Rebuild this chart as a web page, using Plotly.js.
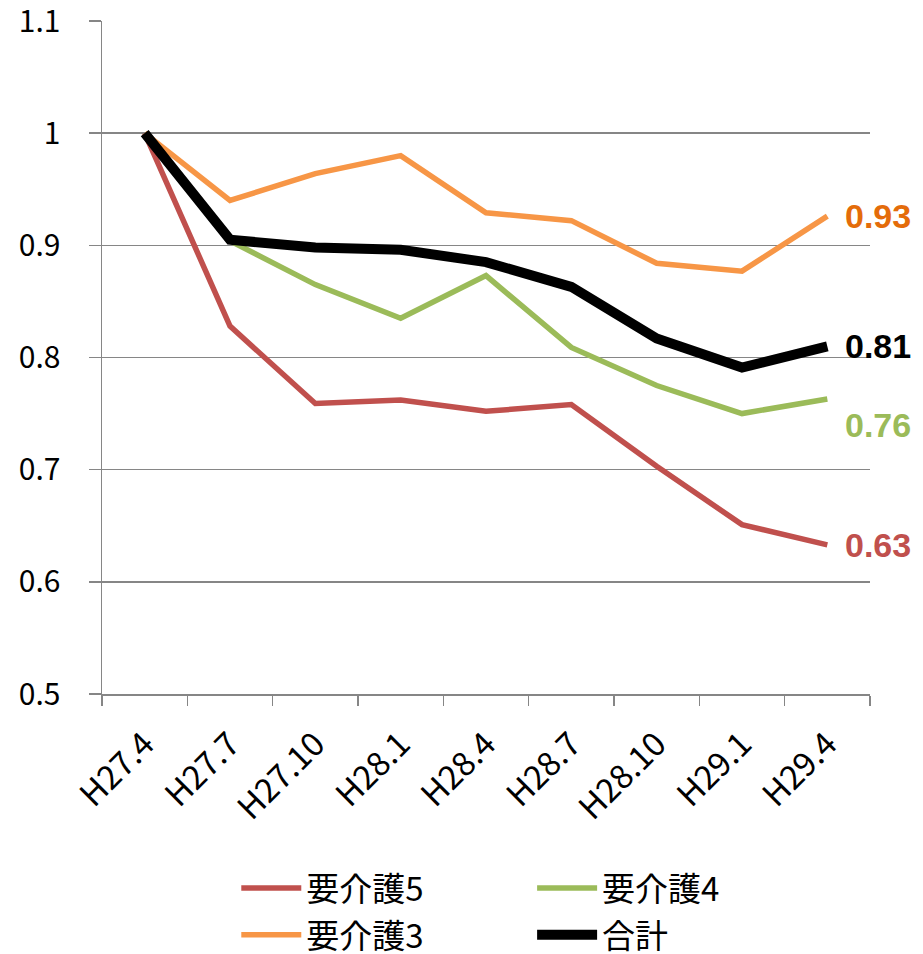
<!DOCTYPE html>
<html>
<head>
<meta charset="utf-8">
<script src="https://cdn.plot.ly/plotly-3.0.1.min.js"></script>
<style>html,body{margin:0;padding:0;background:#fff;}#chart{width:923px;height:954px;}</style>
</head>
<body>
<div id="chart"></div>
<script>
const categories = ["H27.4","H27.7","H27.10","H28.1","H28.4","H28.7","H28.10","H29.1","H29.4"];
const care5 = [1.0, 0.828, 0.759, 0.762, 0.752, 0.758, 0.703, 0.651, 0.633];
const care4 = [1.0, 0.904, 0.865, 0.835, 0.873, 0.809, 0.775, 0.750, 0.763];
const care3 = [1.0, 0.940, 0.964, 0.980, 0.929, 0.922, 0.884, 0.877, 0.926];
const total = [1.0, 0.905, 0.898, 0.896, 0.885, 0.863, 0.817, 0.791, 0.810];
const seriesNames = ["要介護5","要介護4","要介護3","合計"];
const yTickVals = [0.5, 0.6, 0.7, 0.8, 0.9, 1.0, 1.1];
const yTickText = ["0.5", "0.6", "0.7", "0.8", "0.9", "1", "1.1"];

const series = [
  {name: seriesNames[0], y: care5, color: "#C0504D", label: "#C0504D", width: 5.5, legend: "legend", yshift: 0},
  {name: seriesNames[1], y: care4, color: "#9BBB59", label: "#9BBB59", width: 5.5, legend: "legend2", yshift: -26},
  {name: seriesNames[2], y: care3, color: "#F79646", label: "#E46C0A", width: 5.5, legend: "legend", yshift: 0},
  {name: seriesNames[3], y: total, color: "#000000", label: "#000000", width: 10, legend: "legend2", yshift: 0}
];

const traces = series.map((s, i) => ({
  type: "scatter", mode: "lines", x: categories, y: s.y, name: s.name,
  legend: s.legend, legendgroup: "g" + i,
  line: {color: s.color, width: s.width, shape: "linear"},
  hoverinfo: "skip"
}));

const annotations = series.map(s => ({
  x: categories[categories.length - 1], y: s.y[s.y.length - 1],
  xref: "x", yref: "y", xanchor: "left", yanchor: "middle",
  xshift: 16, yshift: s.yshift, showarrow: false,
  text: "<b>" + s.y[s.y.length - 1].toFixed(2) + "</b>",
  font: {family: "Liberation Sans, Arial, sans-serif", size: 34, color: s.label}
}));

const legendCommon = {
  orientation: "v", xanchor: "left", yanchor: "top", yref: "container", xref: "container",
  font: {family: "Noto Sans CJK JP, sans-serif", size: 33, color: "#000"},
  bgcolor: "rgba(0,0,0,0)", traceorder: "grouped", tracegroupgap: 1, itemwidth: 60
};

const layout = {
  width: 923, height: 954,
  margin: {l: 102, r: 53, t: 21, b: 260, autoexpand: false},
  paper_bgcolor: "#fff", plot_bgcolor: "#fff",
  showlegend: true,
  xaxis: {
    type: "category", tickson: "boundaries", ticks: "outside", ticklen: 10, tickcolor: "#868686", tickwidth: 1.5,
    showline: true, linecolor: "#868686", linewidth: 1.5, showgrid: false, zeroline: false, automargin: false,
    tickangle: -45, ticklabelstandoff: 16, ticklabeloverflow: "allow",
    tickfont: {family: "Noto Sans CJK JP, sans-serif", size: 33, color: "#000"},
    range: [-0.5, 8.5]
  },
  yaxis: {
    range: [0.5, 1.1], tickmode: "array", tickvals: yTickVals, ticktext: yTickText,
    ticks: "outside", ticklen: 12, tickcolor: "#868686", tickwidth: 1.5,
    showline: true, linecolor: "#868686", linewidth: 1.5, showgrid: true, gridcolor: "#868686", gridwidth: 1.5,
    zeroline: false, automargin: false, ticklabelstandoff: 22, ticklabeloverflow: "allow",
    tickfont: {family: "Noto Sans CJK JP, sans-serif", size: 30, color: "#000"}
  },
  legend: Object.assign({}, legendCommon, {x: 0.256, y: 1 - 860 / 954}),
  legend2: Object.assign({}, legendCommon, {x: 0.5765, y: 1 - 860 / 954}),
  annotations: annotations
};

Plotly.newPlot("chart", traces, layout, {displayModeBar: false, staticPlot: true});
</script>
</body>
</html>
